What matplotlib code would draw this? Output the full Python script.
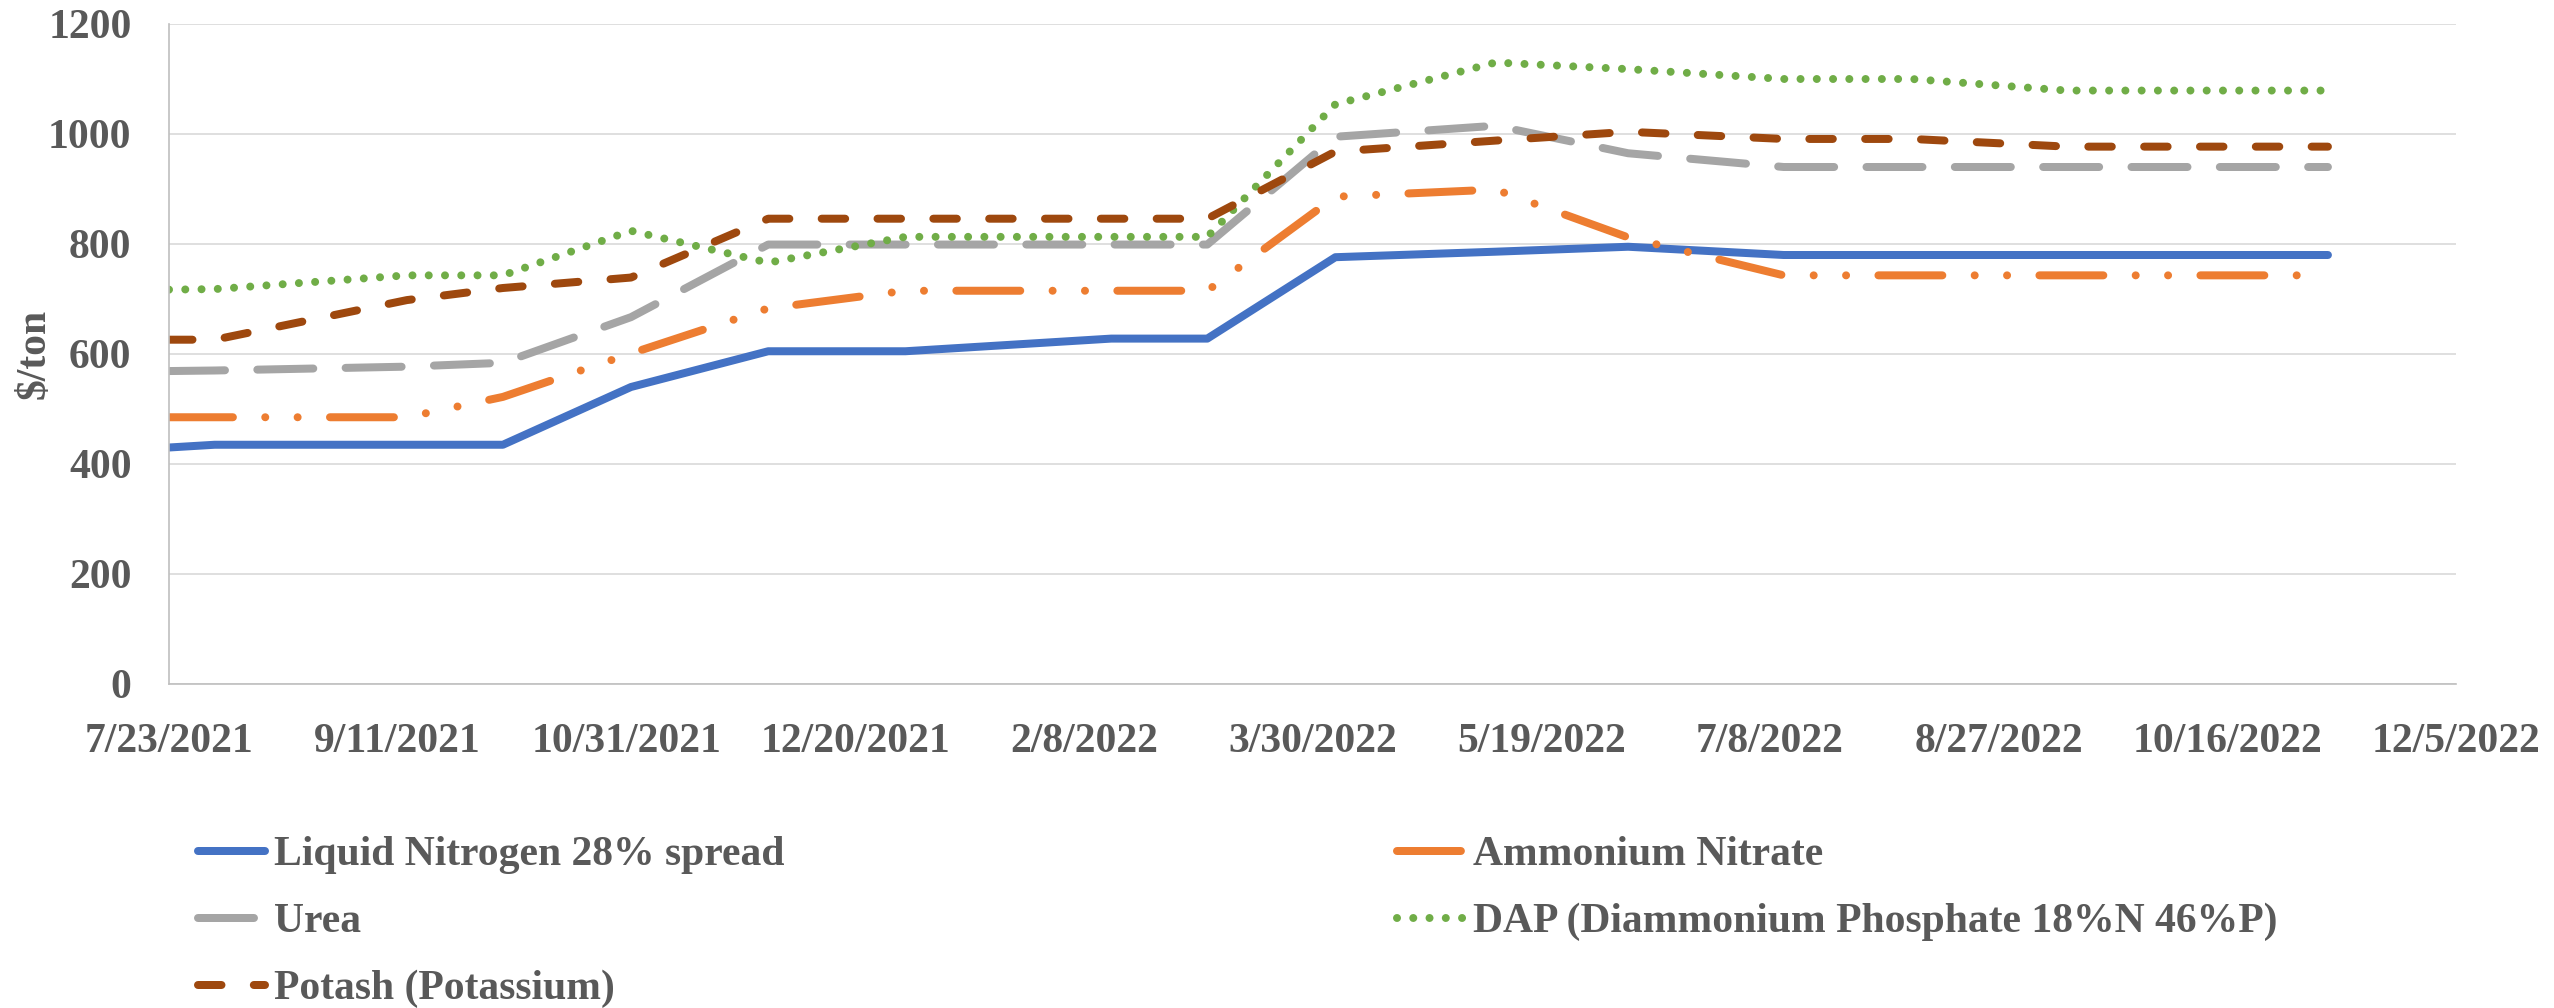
import datetime as dt
import numpy as np
import matplotlib
matplotlib.use('Agg')
import matplotlib.pyplot as plt
import matplotlib.dates as mdates
import matplotlib.ticker as mticker

# fertilizer prices, $/ton
dates = ['2021-07-23', '2021-08-02', '2021-09-13', '2021-10-04', '2021-11-01',
         '2021-12-01', '2021-12-31', '2022-02-14', '2022-03-07', '2022-04-04',
         '2022-05-09', '2022-06-07', '2022-07-11', '2022-08-08', '2022-09-11',
         '2022-11-07']
liquid_n = [430, 435, 435, 435, 540, 605, 605, 628, 628, 776, 786, 795, 780, 780, 780, 780]
amm_nitrate = [485, 485, 485, 522, 601, 683, 715, 715, 715, 886, 899, 812, 743, 743, 743, 743]
urea = [569, 570, 577, 584, 667, 799, 799, 799, 799, 995, 1015, 965, 940, 940, 940, 940]
dap = [717, 718, 743, 743, 824, 766, 813, 813, 813, 1054, 1130, 1118, 1100, 1100, 1079, 1079]
potash = [626, 626, 698, 720, 739, 846, 846, 846, 846, 968, 988, 1004, 991, 991, 977, 977]

labels = ['Liquid Nitrogen 28% spread', 'Ammonium Nitrate', 'Urea',
          'DAP (Diammonium Phosphate 18%N 46%P)', 'Potash (Potassium)']

x_start = '2021-07-23'
x_step_days = 50
n_steps = 10

plt.rcParams['font.family'] = 'Liberation Serif'
plt.rcParams['font.weight'] = 'bold'
plt.rcParams['lines.scale_dashes'] = False

txt = '#595959'
fs = 30

fig = plt.figure(figsize=(25.54, 10.08), dpi=100)
ax = fig.add_axes([169/2554, 1-684/1008, (2456-169)/2554, (684-24)/1008])

x = [dt.datetime.strptime(d, '%Y-%m-%d') for d in dates]
lw = 5.76
common = dict(lw=lw, solid_capstyle='round', dash_capstyle='round',
              solid_joinstyle='round', dash_joinstyle='round')

h_ln, = ax.plot(x, liquid_n, color='#4472C4', ls='-', label=labels[0], **common)
h_an, = ax.plot(x, amm_nitrate, color='#ED7D31',
                ls=(0, (46, 23.3, 0.01, 23.3, 0.01, 23.3)), label=labels[1], **common)
h_ur, = ax.plot(x, urea, color='#A5A5A5', ls=(0, (40.3, 23.3)), label=labels[2], **common)
h_dap, = ax.plot(x, dap, color='#70AD47', ls=(0, (0.01, 11.7)), label=labels[3], **common)
h_pt, = ax.plot(x, potash, color='#9E480E', ls=(0, (16.9, 23.3)), label=labels[4], **common)

x0 = mdates.date2num(dt.datetime.strptime(x_start, '%Y-%m-%d'))
ax.set_xlim(x0, x0 + x_step_days*n_steps)
ax.set_xticks(x0 + x_step_days*np.arange(n_steps + 1))

def fmt_date(v, pos):
    d = mdates.num2date(v)
    return f"{d.month}/{d.day}/{d.year}"

ax.xaxis.set_major_formatter(mticker.FuncFormatter(fmt_date))
ax.set_ylim(0, 1200)
ax.set_yticks(np.arange(0, 1201, 200))

ax.grid(axis='y', color='#D9D9D9', lw=1.2)
ax.set_axisbelow(True)
for s in ['top', 'right']:
    ax.spines[s].set_visible(False)
for s in ['left', 'bottom']:
    ax.spines[s].set_color('#BFBFBF')
    ax.spines[s].set_linewidth(1.2)

ax.tick_params(axis='both', length=0, labelsize=fs, labelcolor=txt)
ax.tick_params(axis='y', pad=27)
ax.tick_params(axis='x', pad=28)

ax.set_ylabel('$/ton', fontsize=fs, color=txt, fontweight='bold')
ax.yaxis.set_label_coords(-0.0505, 0.5)

# column-major order so rows read: LN / AN, Urea / DAP, Potash
fig.legend(handles=[h_ln, h_ur, h_pt, h_an, h_dap], ncol=2, frameon=False,
           loc='upper left', bbox_to_anchor=(198/2554, 1-836/1008),
           fontsize=fs, labelcolor=txt, handlelength=1.6, handletextpad=0.22,
           columnspacing=14.7, labelspacing=0.69, borderpad=0, borderaxespad=0)

fig.savefig('out.png', dpi=100)
